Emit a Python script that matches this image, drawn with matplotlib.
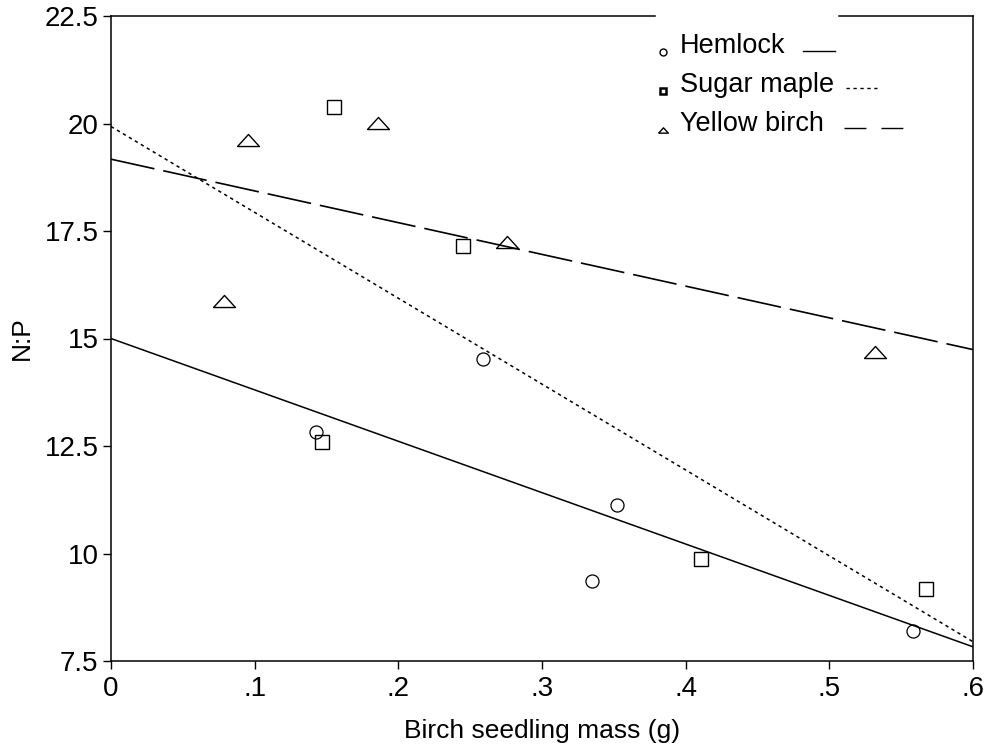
import matplotlib
matplotlib.use("Agg")
import matplotlib.pyplot as plt
import numpy as np

plt.rcParams['font.family'] = ['Liberation Sans', 'DejaVu Sans']
plt.rcParams['lines.scale_dashes'] = False

# ---- data ----
hemlock_x = [0.1427, 0.2591, 0.3520, 0.3347, 0.5580]
hemlock_y = [12.83, 14.52, 11.13, 9.36, 8.20]

maple_x = [0.1550, 0.1466, 0.2452, 0.4106, 0.5676]
maple_y = [20.38, 12.60, 17.16, 9.87, 9.17]

birch_x = [0.0953, 0.1858, 0.0789, 0.2758, 0.5320]
birch_y = [19.62, 20.01, 15.87, 17.24, 14.69]

# fitted lines: intercept, slope
hemlock_fit = [15.00, -11.95]
maple_fit = [19.93, -19.97]
birch_fit = [19.17, -7.38]

species = ["Hemlock", "Sugar maple", "Yellow birch"]
x_ticks = [0, 0.1, 0.2, 0.3, 0.4, 0.5, 0.6]
x_ticklabels = ["0", ".1", ".2", ".3", ".4", ".5", ".6"]
y_ticks = [7.5, 10, 12.5, 15, 17.5, 20, 22.5]
y_ticklabels = ["7.5", "10", "12.5", "15", "17.5", "20", "22.5"]

# ---- figure ----
fig = plt.figure(figsize=(9.9, 7.53), dpi=100)
ax = fig.add_axes([111/990, 1-661/753, 862/990, 645/753])
ax.set_xlim(0, 0.6)
ax.set_ylim(7.5, 22.5)

tri = [(-1, -0.55), (1, -0.55), (0, 0.55), (-1, -0.55)]

solid = '-'
dotted = (0, (2.4, 2.6))
dashed = (0, (32, 6.5))

xl = np.array([0, 0.6])
ax.plot(xl, hemlock_fit[0] + hemlock_fit[1]*xl, color='black', lw=1.1, ls=solid)
ax.plot(xl, maple_fit[0] + maple_fit[1]*xl, color='black', lw=1.1, ls=dotted)
ax.plot(xl, birch_fit[0] + birch_fit[1]*xl, color='black', lw=1.2, ls=dashed)

ax.plot(hemlock_x, hemlock_y, ls='none', marker='o', ms=9.4, mfc='none', mec='black', mew=0.9)
ax.plot(maple_x, maple_y, ls='none', marker='s', ms=9.5, mfc='none', mec='black', mew=1.0)
ax.plot(birch_x, birch_y, ls='none', marker=tri, ms=15.8, mfc='none', mec='black', mew=1.0)

# spines
for s in ['left', 'bottom', 'right']:
    ax.spines[s].set_linewidth(1.1)
ax.spines['top'].set_visible(False)
ax.plot([0, 0.631], [1, 1], transform=ax.transAxes, color='black', lw=1.1, clip_on=False)
ax.plot([0.8445, 1], [1, 1], transform=ax.transAxes, color='black', lw=1.1, clip_on=False)

ax.set_xticks(x_ticks)
ax.set_xticklabels(x_ticklabels)
ax.set_yticks(y_ticks)
ax.set_yticklabels(y_ticklabels)
ax.tick_params(direction='out', length=6, width=1.0, labelsize=20, pad=3, colors='black')
ax.tick_params(axis='x', pad=5)

ax.set_xlabel("Birch seedling mass (g)", fontsize=19, labelpad=12)
ax.set_ylabel("N:P", fontsize=19, labelpad=8)

# manual legend
leg_rows = [
    dict(my=0.9447, ty=0.9426, lx=(0.8028, 0.8399), ly=0.9462, marker='o', ms=5, mew=1.0, ls=solid),
    dict(my=0.8842, ty=0.8822, lx=(0.8527, 0.8886), ly=0.8884, marker='s', ms=5, mew=1.8, ls=dotted),
    dict(my=0.8233, ty=0.8217, lx=(0.8503, 0.9188), ly=0.8268, marker=tri, ms=7, mew=1.0, ls=(0, (15.8, 10.8))),
]
for name, r in zip(species, leg_rows):
    ax.plot([0.6404], [r['my']], transform=ax.transAxes, ls='none', marker=r['marker'],
            ms=r['ms'], mfc='none', mec='black', mew=r['mew'], clip_on=False)
    ax.text(0.6598, r['ty'], name, transform=ax.transAxes, fontsize=19.5,
            va='baseline', ha='left', color='black')
    ax.plot(list(r['lx']), [r['ly'], r['ly']], transform=ax.transAxes, color='black',
            lw=1.0, ls=r['ls'], clip_on=False)

fig.savefig("out.png", dpi=100)
